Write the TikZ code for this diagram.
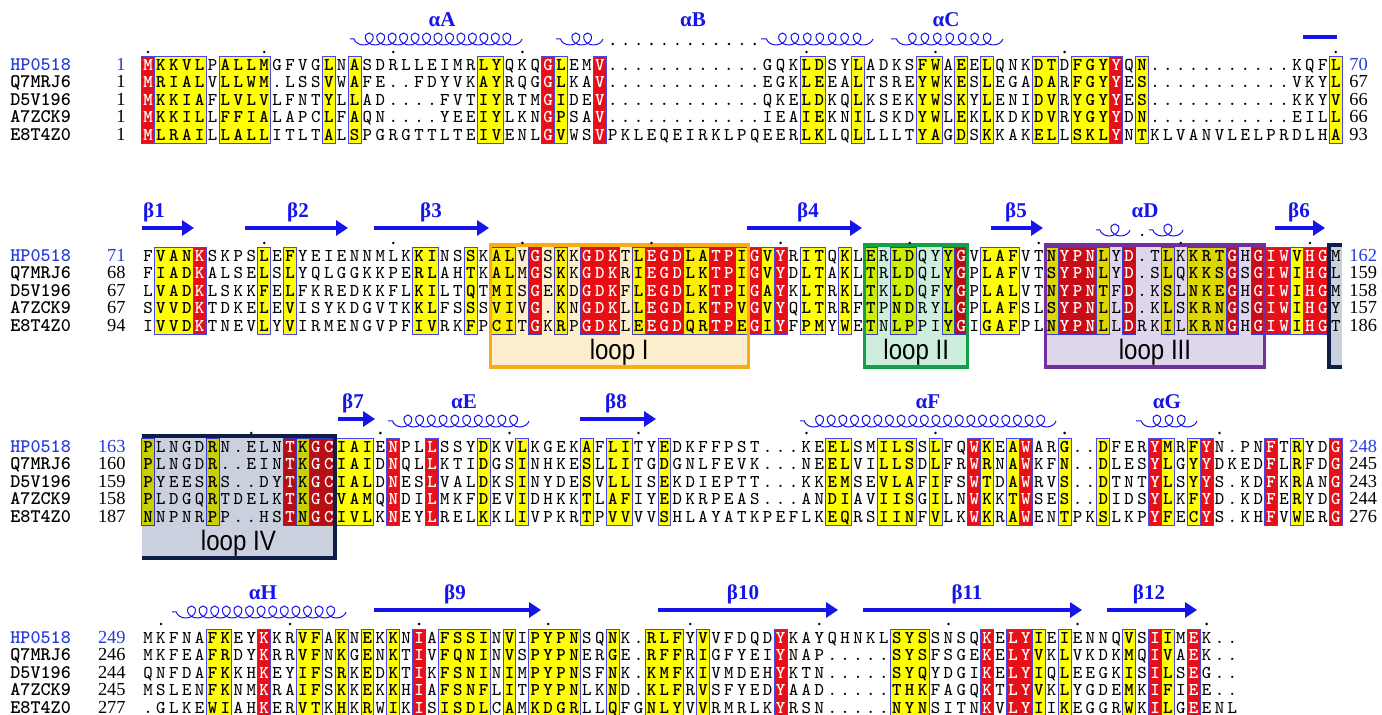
\documentclass[tikz,border=0pt]{standalone}
\usepackage{fontspec}
\setmainfont{Liberation Serif}
\newfontfamily\loopfont[FakeStretch=0.86]{Liberation Sans}
\usetikzlibrary{arrows.meta, decorations.pathmorphing}

\definecolor{idred}{RGB}{232,16,24}
\definecolor{simyel}{RGB}{255,255,0}
\definecolor{boxblue}{RGB}{70,70,235}
\definecolor{ssblue}{RGB}{20,20,235}
\definecolor{hpblue}{RGB}{40,60,220}
\definecolor{loopIline}{RGB}{250,170,20}
\definecolor{loopIfill}{RGB}{253,238,205}
\definecolor{loopIIline}{RGB}{20,160,70}
\definecolor{loopIIfill}{RGB}{205,238,220}
\definecolor{loopIIIline}{RGB}{112,48,160}
\definecolor{loopIIIfill}{RGB}{222,214,236}
\definecolor{loopIVline}{RGB}{14,30,70}
\definecolor{loopIVfill}{RGB}{202,208,222}

\newcommand\resfont{\ttfamily\fontsize{9}{10}\selectfont}
\newcommand\resboldfont{\ttfamily\bfseries\fontsize{9}{10}\selectfont}
\newcommand\namefont{\ttfamily\bfseries\fontsize{9.6}{10}\selectfont}
\newcommand\numfont{\rmfamily\fontsize{9.2}{10}\selectfont}
\newcommand\ssfont{\rmfamily\bfseries\fontsize{10.5}{12}\selectfont}

% first row of each block
\expandafter\def\csname rowy1\endcsname{65}
\expandafter\def\csname rowy2\endcsname{256}
\expandafter\def\csname rowy3\endcsname{447}
\expandafter\def\csname rowy4\endcsname{638}
\newcommand\rowy[1]{\csname rowy#1\endcsname}
\newcommand\colx[1]{(148+(#1-1)*12.91)}

% coloured columns, a/z ranges
\newcommand\hilite[3]{%
  \foreach \fa/\fz in {#3}{%
    \path[fill=#2, draw=boxblue, line width=0.45pt]
      ({\colx{\fa}-6.45},{\rowy{#1}-8.7}) rectangle ({\colx{\fz}+6.45},{\rowy{#1}+78.3});
    \foreach \fc in {\fa,...,\fz}{\expandafter\xdef\csname cl-#1-\fc\endcsname{#2}}%
  }}

\makeatletter
\newcount\colno
\newcommand\seqline[3]{%
  \global\colno=0
  \@tfor\rsd:=#3\do{%
    \global\advance\colno by 1
    \edef\curcol{\the\colno}%
    \ifcsname cl-#1-\curcol\endcsname\edef\curcls{\csname cl-#1-\curcol\endcsname}\else\def\curcls{none}\fi
    \if.\rsd\def\curcls{none}\fi
    \node[res\curcls] (q#1-#2-\curcol) at ({\colx{\curcol}},{\rowy{#1}+(#2-1)*17.4+5.5}) {\rsd};}}
\makeatother

\newcommand\rowstarts[2]{%
  \foreach \nm/\st [count=\rw] in {#2}{%
    \ifnum\rw=1 \def\tc{hpblue}\else\def\tc{black}\fi
    \node[seqname, text=\tc] (name#1-\rw) at (10,{\rowy{#1}+(\rw-1)*17.4+5.5}) {\nm};
    \node[seqnum, anchor=base east, text=\tc] (start#1-\rw) at (126,{\rowy{#1}+(\rw-1)*17.4+5.5}) {\st};
  }}
\newcommand\rowends[2]{%
  \foreach \en [count=\rw] in {#2}{%
    \ifnum\rw=1 \def\tc{hpblue}\else\def\tc{black}\fi
    \node[seqnum, anchor=base west, text=\tc] (end#1-\rw) at (1349,{\rowy{#1}+(\rw-1)*17.4+5.5}) {\en};
  }}
% helix from x1 to x2 at height y with n turns
\newcommand\helix[4]{%
  \draw[helix, decoration={segment length={(#2-#1)/#4*0.5pt}}] (#2,#3) -- (#1,#3);}

\tikzset{
  resnone/.style={font=\resfont, anchor=base, inner sep=0pt},
  residred/.style={resnone, font=\resboldfont, text=white},
  ressimyel/.style={resnone, font=\resboldfont},
  seqname/.style={font=\namefont, anchor=base west, inner sep=0pt},
  seqnum/.style={font=\numfont, inner sep=0pt},
  helix/.style={draw=ssblue, line width=0.5pt, decorate,
    decoration={coil, aspect=1.1, amplitude=3pt}},
  strand/.style={draw=ssblue, line width=2pt, -{Triangle[length=6pt, width=7.5pt]}},
  sslabel/.style={text=ssblue, font=\ssfont, anchor=base, inner sep=0pt},
  looplabel/.style={font={\loopfont\fontsize{14}{16}\selectfont}, inner sep=0pt}
}

\begin{document}
\begin{tikzpicture}[x=0.5pt, y=-0.5pt]
  \useasboundingbox (0,0) rectangle (1382,715);
  \fill[white] (0,0) rectangle (1382,715);

  % conserved columns
  \hilite{1}{idred}{1/1, 32/32, 36/36, 76/76}
  \hilite{1}{simyel}{2/5, 7/10, 15/15, 17/17, 27/28, 33/33, 52/53, 56/56, 61/62, 64/64, 66/66, 70/71, 73/75, 78/78, 93/93}
  \hilite{2}{idred}{5/5, 31/31, 35/37, 40/42, 45/46, 48/48, 50/50, 64/64, 72/74, 77/77, 85/85, 87/89, 91/92}
  \hilite{2}{simyel}{2/4, 10/10, 12/12, 22/23, 26/26, 28/29, 33/33, 39/39, 43/44, 47/47, 49/49, 52/53, 55/55, 57/57, 59/60, 63/63, 66/68, 71/71, 75/75, 80/80, 82/84, 90/90}
  \hilite{3}{idred}{12/12, 14/15, 20/20, 23/23, 65/65, 69/69, 79/79, 83/83, 88/88, 93/93}
  \hilite{3}{simyel}{1/1, 6/6, 13/13, 16/18, 27/27, 30/30, 35/35, 37/38, 41/41, 54/55, 58/60, 62/62, 66/66, 68/68, 72/72, 75/75, 80/80, 82/82, 90/90}
  \hilite{4}{idred}{10/10, 22/22, 50/50, 66/66, 68/69, 79/79, 82/82}
  \hilite{4}{simyel}{6/7, 13/14, 16/16, 18/18, 20/20, 24/27, 29/29, 31/34, 37/37, 40/42, 44/44, 59/61, 70/70, 72/72, 77/77, 80/80}

  % loops I-IV
  \begin{scope}[blend mode=multiply]
    \fill[loopIfill] (490.1,245) rectangle (748.3,367);
    \fill[loopIIfill] (864.5,245) rectangle (967.8,367);
    \fill[loopIIIfill] (1045.2,245) rectangle (1264.7,367);
    \fill[loopIVfill] (1329.3,245) rectangle (1342.2,367);
    \fill[loopIVfill] (141.5,436) rectangle (335.2,558);
  \end{scope}

  % block 1
  \seqline{1}{1}{MKKVLPALLMGFVGLNASDRLLEIMRLYQKQGLEMV............GQKLDSYLADKSFWAEELQNKDTDFGYYQN...........KQFL}
  \seqline{1}{2}{MRIALVLLWM.LSSVWAFE..FDYVKAYRQGGLKAV............EGKLEEALTSREYWKESLEGADARFGYYES...........VKYL}
  \seqline{1}{3}{MKKIAFLVLVLFNTYLLAD....FVTIYRTMGIDEV............QKELDKQLKSEKYWSKYLENIDVRYGYYES...........KKYV}
  \seqline{1}{4}{MKKILLFFIALAPCLFAQN....YEEIYLKNGPSAV............IEAIEKNILSKDYWLEKLKDKDVRYGYYDN...........EILL}
  \seqline{1}{5}{MLRAILLALLITLTALSPGRGTTLTEIVENLGVWSVPKLEQEIRKLPQEERLKLQLLLLTYAGDSKKAKELLSKLYNTKLVANVLELPRDLHA}
  \rowstarts{1}{HP0518/1, Q7MRJ6/1, D5V196/1, A7ZCK9/1, E8T4Z0/1}
  \rowends{1}{70, 67, 66, 66, 93}

  % block 2
  \seqline{2}{1}{FVANKSKPSLEFYEIENNMLKKINSSKALVGSKKGDKTLEGDLATPIGVYRITQKLERLDQYYGVLAFVTNYPNLYD.TLKKRTGHGIWVHGM}
  \seqline{2}{2}{FIADKALSELSLYQLGGKKPERLAHTKALMGSKKGDKRIEGDLKTPIGVYDLTAKLTRLDQLYGPLAFVTSYPNLYD.SLQKKSGSGIWIHGL}
  \seqline{2}{3}{LVADKLSKKFELFKREDKKFLKILTQTMISGEKDGDKFLEGDLKTPIGAYKLTRKLTKLDQFYGPLALVTNYPNTFD.KSLNKEGHGIWIHGM}
  \seqline{2}{4}{SVVDKTDKELEVISYKDGVTKKLFSSSVIVG.KNGDKLLEGDLKTPVGVYQLTRRFTPNDRYLGPLAFSLSYPNLLD.KLSKRNGSGIWIHGY}
  \seqline{2}{5}{IVVDKTNEVLYVIRMENGVPFIVRKFPCITGKRPGDKLEEGDQRTPEGIYFPMYWETNLPPIYGIGAFPLNYPNLLDRKILKRNGHGIWIHGT}
  \rowstarts{2}{HP0518/71, Q7MRJ6/68, D5V196/67, A7ZCK9/67, E8T4Z0/94}
  \rowends{2}{162, 159, 158, 157, 186}

  % block 3
  \seqline{3}{1}{PLNGDRN.ELNTKGCIAIENPLLSSYDKVLKGEKAFLITYEDKFFPST...KEELSMILSSLFQWKEAWARG..DFERYMRFYN.PNFTRYDG}
  \seqline{3}{2}{PLNGDR..EINTKGCIAIDNQLLKTIDGSINHKESLLITGDGNLFEVK...NEELVILLSDLFRWRNAWKFN..DLESYLGYYDKEDFLRFDG}
  \seqline{3}{3}{PYEESRS..DYTKGCIALDNESLVALDKSINYDESVLLISEKDIEPTT...KKEMSEVLAFIFSWTDAWRVS..DTNTYLSYYS.KDFKRANG}
  \seqline{3}{4}{PLDGQRTDELKTKGCVAMQNDILMKFDEVIDHKKTLAFIYEDKRPEAS...ANDIAVIISGILNWKKTWSES..DIDSYLKFYD.KDFERYDG}
  \seqline{3}{5}{NNPNRPP..HSTNGCIVLKNEYLRELKKLIVPKRTPVVVVSHLAYATKPEFLKEQRSIINFVLKWKRAWENTPKSLKPYFECYS.KHFVWERG}
  \rowstarts{3}{HP0518/163, Q7MRJ6/160, D5V196/159, A7ZCK9/158, E8T4Z0/187}
  \rowends{3}{248, 245, 243, 244, 276}

  % block 4
  \seqline{4}{1}{MKFNAFKEYKKRVFAKNEKKNIAFSSINVIPYPNSQNK.RLFYVVFDQDYKAYQHNKLSYSSNSQKELYIEIENNQVSIIMEK..}
  \seqline{4}{2}{MKFEAFRDYKRRVFNKGENKTIVFQNINVSPYPNERGE.RFFRIGFYEIYNAP.....SYSFSGEKELYVKLVKDKMQIVAEK..}
  \seqline{4}{3}{QNFDAFKKHKEYIFSRKEDKTIKFSNINIMPYPNSFNK.KMFKIVMDEHYKTN.....SYQYDGIKELYIQLEEGKISILSEG..}
  \seqline{4}{4}{MSLENFKNMKRAIFSKKEKKHIAFSNFLITPYPNLKND.KLFRVSFYEDYAAD.....THKFAGQKTLYVKLYGDEMKIFIEE..}
  \seqline{4}{5}{.GLKEWIAHKERVTKHKRWIKISISDLCAMKDGRLLQFGNLYVVRMRLKYRSN.....NYNSITNKVLYIIKEGGRWKILGEENL}
  \rowstarts{4}{HP0518/249, Q7MRJ6/246, D5V196/244, A7ZCK9/245, E8T4Z0/277}

  % loop frames and labels
  \draw[loopIline, line width=1.6pt] (490.1,245) rectangle (748.3,367);
  \draw[loopIIline, line width=1.6pt] (864.5,245) rectangle (967.8,367);
  \draw[loopIIIline, line width=1.6pt] (1045.2,245) rectangle (1264.7,367);
  \draw[loopIVline, line width=2pt] (1342.2,245) -- (1329.3,245) -- (1329.3,367) -- (1342.2,367);
  \draw[loopIVline, line width=2pt] (141.5,436) -- (335.2,436) -- (335.2,558) -- (141.5,558);
  \node[looplabel] (loopI) at (619.2,352) {loop I};
  \node[looplabel] (loopII) at (916.2,352) {loop II};
  \node[looplabel] (loopIII) at (1155,352) {loop III};
  \node[looplabel] (loopIV) at (238.4,543) {loop IV};

  % secondary structure, block 1
  \node[sslabel] (aA) at (442,27) {αA};
  \node[sslabel] (aB) at (693,27) {αB};
  \node[sslabel] (aC) at (946,27) {αC};
  \helix{350}{522}{39}{15}
  \helix{556}{603}{39}{4}
  \helix{761}{873}{39}{9}
  \helix{891}{1003}{39}{9}
  \foreach \c in {37,...,48}
    \fill ({\colx{\c}},44) circle[radius=0.65pt];
  \draw[ssblue, line width=2pt] (1303,37) -- (1337,37);

  % block 2
  \node[sslabel] (b1) at (154,218) {β1};
  \node[sslabel] (b2) at (298,218) {β2};
  \node[sslabel] (b3) at (431,218) {β3};
  \node[sslabel] (b4) at (808,218) {β4};
  \node[sslabel] (b5) at (1016,218) {β5};
  \node[sslabel] (aD) at (1145,218) {αD};
  \node[sslabel] (b6) at (1299,218) {β6};
  \draw[strand] (142,228) -- (194,228);
  \draw[strand] (245,228) -- (348,228);
  \draw[strand] (374,228) -- (489,228);
  \draw[strand] (747,228) -- (862,228);
  \draw[strand] (991,228) -- (1043,228);
  \helix{1096}{1130}{230}{3}
  \fill ({\colx{78}},235) circle[radius=0.65pt];
  \helix{1149}{1183}{230}{3}
  \draw[strand] (1275,228) -- (1325,228);

  % block 3
  \node[sslabel] (b7) at (353,409) {β7};
  \node[sslabel] (aE) at (464,409) {αE};
  \node[sslabel] (b8) at (616,409) {β8};
  \node[sslabel] (aF) at (928,409) {αF};
  \node[sslabel] (aG) at (1167,409) {αG};
  \draw[strand] (338,419) -- (375,419);
  \helix{388}{529}{421}{12}
  \draw[strand] (580,419) -- (656,419);
  \helix{800}{1056}{421}{22}
  \helix{1136}{1197}{421}{5}

  % block 4
  \node[sslabel] (aH) at (263,600) {αH};
  \node[sslabel] (b9) at (455,600) {β9};
  \node[sslabel] (b10) at (743,600) {β10};
  \node[sslabel] (b11) at (967,600) {β11};
  \node[sslabel] (b12) at (1149,600) {β12};
  \helix{172}{346}{612}{15}
  \draw[strand] (374,610) -- (541,610);
  \draw[strand] (658,610) -- (838,610);
  \draw[strand] (863,610) -- (1082,610);
  \draw[strand] (1107,610) -- (1197,610);

  % every tenth residue of HP0518
  \foreach \c in {1,10,20,30,52,62,72,93} \fill ({\colx{\c}},52) circle[radius=0.7pt];
  \foreach \c in {10,20,30,40,50,60,70,81,91} \fill ({\colx{\c}},243) circle[radius=0.7pt];
  \foreach \c in {9,19,29,39,52,62,72,84} \fill ({\colx{\c}},433) circle[radius=0.7pt];
  \foreach \c in {2,12,22,32,43,53,63,73,83} \fill ({\colx{\c}},624) circle[radius=0.7pt];
\end{tikzpicture}
\end{document}
